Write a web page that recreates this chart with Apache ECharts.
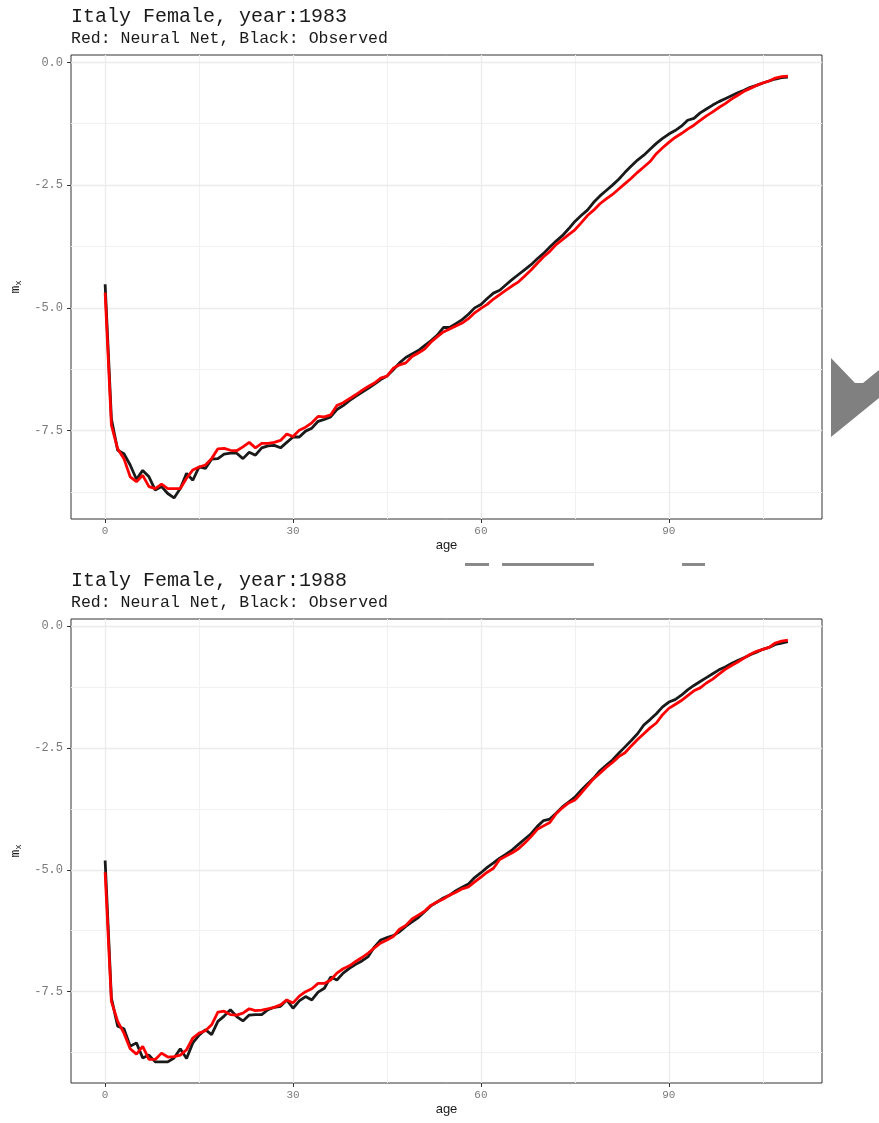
<!DOCTYPE html>
<html>
<head>
<meta charset="utf-8">
<script src="https://cdn.jsdelivr.net/npm/echarts@6/dist/echarts.min.js"></script>
<style>
  html, body { margin: 0; padding: 0; background: #fff; }
  #chart { width: 879px; height: 1123px; }
</style>
</head>
<body>
<div id="chart"></div>
<script>
// ages 0..109
const ages = Array.from({ length: 110 }, (_, i) => i);

const observed1983 = [
  -4.52, -7.26, -7.90, -7.97, -8.20, -8.49, -8.31, -8.44, -8.71, -8.64,
  -8.78, -8.87, -8.68, -8.37, -8.51, -8.24, -8.27, -8.08, -8.07, -7.98,
  -7.96, -7.96, -8.07, -7.94, -8.00, -7.85, -7.81, -7.80, -7.85, -7.74,
  -7.63, -7.63, -7.51, -7.45, -7.31, -7.27, -7.22, -7.07, -6.99, -6.89,
  -6.80, -6.72, -6.64, -6.55, -6.46, -6.39, -6.26, -6.12, -6.01, -5.94,
  -5.87, -5.77, -5.67, -5.56, -5.40, -5.40, -5.32, -5.24, -5.13, -5.00,
  -4.93, -4.81, -4.70, -4.64, -4.53, -4.42, -4.32, -4.22, -4.12, -4.00,
  -3.89, -3.76, -3.64, -3.53, -3.39, -3.24, -3.12, -3.01, -2.85, -2.72,
  -2.61, -2.50, -2.38, -2.24, -2.11, -1.99, -1.89, -1.77, -1.65, -1.55,
  -1.46, -1.39, -1.30, -1.18, -1.14, -1.03, -0.95, -0.87, -0.80, -0.74,
  -0.68, -0.62, -0.57, -0.51, -0.47, -0.42, -0.38, -0.34, -0.31, -0.30
];
const neuralNet1983 = [
  -4.69, -7.39, -7.87, -8.07, -8.44, -8.54, -8.41, -8.64, -8.68, -8.59,
  -8.68, -8.68, -8.68, -8.47, -8.30, -8.24, -8.20, -8.07, -7.87, -7.86,
  -7.90, -7.91, -7.83, -7.74, -7.85, -7.76, -7.76, -7.74, -7.70, -7.57,
  -7.62, -7.49, -7.43, -7.34, -7.21, -7.22, -7.18, -6.99, -6.93, -6.85,
  -6.77, -6.68, -6.60, -6.53, -6.43, -6.39, -6.23, -6.16, -6.12, -5.99,
  -5.92, -5.84, -5.70, -5.59, -5.49, -5.43, -5.37, -5.31, -5.22, -5.10,
  -5.01, -4.93, -4.82, -4.73, -4.64, -4.55, -4.47, -4.35, -4.23, -4.09,
  -3.96, -3.85, -3.71, -3.61, -3.51, -3.41, -3.27, -3.12, -3.01, -2.88,
  -2.78, -2.69, -2.58, -2.47, -2.36, -2.24, -2.13, -2.02, -1.86, -1.74,
  -1.63, -1.53, -1.45, -1.36, -1.28, -1.18, -1.09, -1.01, -0.92, -0.84,
  -0.75, -0.67, -0.59, -0.53, -0.47, -0.42, -0.38, -0.32, -0.29, -0.28
];
const observed1988 = [
  -4.81, -7.63, -8.21, -8.26, -8.62, -8.55, -8.86, -8.80, -8.94, -8.94,
  -8.94, -8.86, -8.67, -8.87, -8.55, -8.39, -8.28, -8.38, -8.11, -8.00,
  -7.87, -8.01, -8.10, -7.98, -7.97, -7.97, -7.87, -7.82, -7.80, -7.67,
  -7.84, -7.69, -7.60, -7.67, -7.51, -7.43, -7.20, -7.26, -7.12, -7.02,
  -6.94, -6.87, -6.78, -6.58, -6.44, -6.39, -6.35, -6.27, -6.16, -6.07,
  -5.98, -5.86, -5.74, -5.66, -5.58, -5.52, -5.43, -5.36, -5.29, -5.16,
  -5.06, -4.95, -4.86, -4.76, -4.68, -4.59, -4.48, -4.37, -4.26, -4.11,
  -3.99, -3.96, -3.84, -3.71, -3.61, -3.51, -3.37, -3.24, -3.12, -2.97,
  -2.86, -2.75, -2.61, -2.48, -2.35, -2.21, -2.03, -1.92, -1.80, -1.66,
  -1.56, -1.51, -1.42, -1.31, -1.22, -1.14, -1.06, -0.98, -0.90, -0.84,
  -0.77, -0.71, -0.65, -0.59, -0.54, -0.48, -0.44, -0.38, -0.35, -0.32
];
const neuralNet1988 = [
  -5.05, -7.70, -8.11, -8.35, -8.67, -8.78, -8.62, -8.89, -8.89, -8.76,
  -8.84, -8.83, -8.80, -8.69, -8.45, -8.35, -8.30, -8.18, -7.92, -7.90,
  -7.97, -7.98, -7.94, -7.85, -7.89, -7.88, -7.85, -7.82, -7.77, -7.67,
  -7.73, -7.59, -7.50, -7.44, -7.33, -7.33, -7.26, -7.12, -7.03, -6.97,
  -6.88, -6.80, -6.71, -6.60, -6.50, -6.44, -6.37, -6.22, -6.14, -6.01,
  -5.93, -5.85, -5.73, -5.66, -5.60, -5.52, -5.46, -5.39, -5.35, -5.25,
  -5.15, -5.05, -4.97, -4.79, -4.72, -4.65, -4.57, -4.45, -4.32, -4.17,
  -4.10, -4.03, -3.85, -3.73, -3.63, -3.57, -3.43, -3.28, -3.13, -3.02,
  -2.90, -2.80, -2.68, -2.60, -2.46, -2.33, -2.21, -2.09, -1.99, -1.82,
  -1.69, -1.61, -1.53, -1.43, -1.33, -1.27, -1.17, -1.09, -0.99, -0.89,
  -0.81, -0.74, -0.66, -0.58, -0.52, -0.48, -0.44, -0.35, -0.31, -0.29
];

const xTicks = [0, 30, 60, 90];
const xMinor = [15, 45, 75, 105];
const yTicks = [-7.5, -5, -2.5, 0];
const yMinor = [-8.75, -6.25, -3.75, -1.25];

const panels = [
  { title: 'Italy Female, year:1983', obs: observed1983, nn: neuralNet1983 },
  { title: 'Italy Female, year:1988', obs: observed1988, nn: neuralNet1988 }
];

const mono = 'Liberation Mono';
const offset = 564;

function yRange(a, b) {
  const all = a.concat(b);
  const lo = Math.min.apply(null, all), hi = Math.max.apply(null, all);
  const pad = (hi - lo) * 0.05;
  return [lo - pad, hi + pad];
}

const titles = [], grids = [], xAxes = [], yAxes = [], series = [];

panels.forEach(function (p, i) {
  const dy = i * offset;
  titles.push({ text: p.title, left: 71, top: 7 + dy, padding: 0,
    textStyle: { fontFamily: mono, fontSize: 20, fontWeight: 'normal', color: '#1a1a1a' } });
  titles.push({ text: 'Red: Neural Net, Black: Observed', left: 71, top: 30 + dy, padding: 0,
    textStyle: { fontFamily: mono, fontSize: 16.5, fontWeight: 'normal', color: '#1a1a1a' } });

  grids.push({ left: 71, top: 55 + dy, width: 751, height: 464, show: true,
    borderColor: '#333', borderWidth: 1, backgroundColor: '#fff' });

  xAxes.push({
    type: 'value', gridIndex: i, min: -5.45, max: 114.45,
    name: 'age', nameLocation: 'middle', nameGap: 20,
    nameTextStyle: { fontFamily: 'Liberation Sans', fontSize: 13, color: '#1a1a1a' },
    axisLine: { show: false, onZero: false },
    axisTick: { show: true, customValues: xTicks, length: 4, lineStyle: { color: '#333' } },
    axisLabel: { customValues: xTicks, margin: 7, fontFamily: mono, fontSize: 11, color: '#7a7a7a' },
    splitLine: { show: false }
  });

  const yr = yRange(p.obs, p.nn);
  yAxes.push({
    type: 'value', gridIndex: i, min: yr[0], max: yr[1],
    name: '{a|m}{b|x}', nameLocation: 'middle', nameGap: 42, nameRotate: 90,
    nameTextStyle: { rich: {
      a: { fontFamily: mono, fontSize: 13, color: '#1a1a1a', lineHeight: 16, verticalAlign: 'middle' },
      b: { fontFamily: mono, fontSize: 9, color: '#1a1a1a', lineHeight: 16, verticalAlign: 'bottom' }
    } },
    axisLine: { show: false, onZero: false },
    axisTick: { show: true, customValues: yTicks, length: 4, lineStyle: { color: '#333' } },
    axisLabel: { customValues: yTicks, margin: 8, fontFamily: mono, fontSize: 12, color: '#7a7a7a',
      formatter: function (v) { return v.toFixed(1); } },
    splitLine: { show: false }
  });

  // panel grid lines
  const lines = [];
  xMinor.forEach(v => lines.push({ xAxis: v, lineStyle: { color: '#f1f1f1', width: 1 } }));
  yMinor.forEach(v => lines.push({ yAxis: v, lineStyle: { color: '#f1f1f1', width: 1 } }));
  xTicks.forEach(v => lines.push({ xAxis: v, lineStyle: { color: '#ebebeb', width: 1.3 } }));
  yTicks.forEach(v => lines.push({ yAxis: v, lineStyle: { color: '#ebebeb', width: 1.3 } }));
  series.push({
    type: 'line', xAxisIndex: i, yAxisIndex: i, data: [[0, yr[1]]], showSymbol: false,
    lineStyle: { opacity: 0 }, silent: true, z: 1,
    markLine: { silent: true, symbol: ['none', 'none'], label: { show: false },
      lineStyle: { type: 'solid' }, emphasis: { disabled: true }, data: lines }
  });

  series.push({
    name: 'Observed', type: 'line', xAxisIndex: i, yAxisIndex: i, z: 10,
    data: ages.map((a, k) => [a, p.obs[k]]), showSymbol: false, silent: true,
    lineStyle: { color: '#1a1a1a', width: 2.8 }
  });
  series.push({
    name: 'Neural Net', type: 'line', xAxisIndex: i, yAxisIndex: i, z: 11,
    data: ages.map((a, k) => [a, p.nn[k]]), showSymbol: false, silent: true,
    lineStyle: { color: '#ff0000', width: 2.8 }
  });
});

const chart = echarts.init(document.getElementById('chart'));
chart.setOption({
  animation: false,
  backgroundColor: '#fff',
  title: titles,
  grid: grids,
  xAxis: xAxes,
  yAxis: yAxes,
  series: series,
  graphic: [
    { type: 'polygon', shape: { points: [[831, 358], [855, 383], [863, 383], [879, 370], [879, 398], [831, 437]] },
      style: { fill: '#808080' } },
    { type: 'rect', shape: { x: 465, y: 563, width: 24, height: 3 }, style: { fill: '#8a8a8a' } },
    { type: 'rect', shape: { x: 502, y: 563, width: 92, height: 3 }, style: { fill: '#8a8a8a' } },
    { type: 'rect', shape: { x: 682, y: 563, width: 23, height: 3 }, style: { fill: '#8a8a8a' } }
  ]
});
</script>
</body>
</html>
